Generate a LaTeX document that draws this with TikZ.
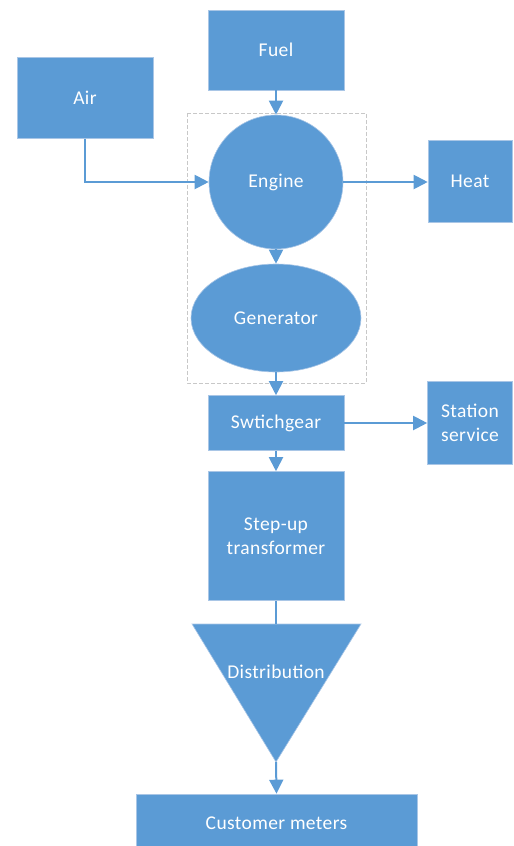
\documentclass[tikz,border=0pt]{standalone}
\usepackage{fontspec}
\setmainfont{Carlito}[LetterSpace=2]
\usetikzlibrary{arrows.meta,shapes.geometric}
\definecolor{boxblue}{HTML}{5B9BD5}
\definecolor{edgeblue}{HTML}{A9C6E6}
\definecolor{dashgray}{HTML}{C8C8C8}
\tikzset{
  blk/.style={fill=boxblue, draw=edgeblue, line width=0.6pt, text=white, font=\fontsize{19.5}{24.5}\selectfont, inner sep=0pt, align=center},
  conn/.style={draw=boxblue, line width=2pt, -{Triangle[width=14pt,length=14pt]}},
  plainconn/.style={draw=boxblue, line width=2pt},
}
\begin{document}
\begin{tikzpicture}[x=1pt,y=-1pt]
\useasboundingbox (0,0) rectangle (514,846);
\clip (0,0) rectangle (514,846);
% dashed group box
\draw[dashgray, line width=0.8pt, dash pattern=on 4pt off 2pt] (187,113) rectangle (366,383);
% nodes
\node[blk, minimum width=136pt, minimum height=80pt] (fuel) at (276,50) {Fuel};
\node[blk, minimum width=136pt, minimum height=81pt] (air) at (85,98) {Air};
\node[blk, circle, minimum size=134pt] (engine) at (276,182) {Engine};
\node[blk, ellipse, minimum width=170pt, minimum height=108pt] (gen) at (276,318) {Generator};
\node[blk, minimum width=84pt, minimum height=82pt] (heat) at (470,181) {Heat};
\node[blk, minimum width=136pt, minimum height=55pt] (sw) at (276,423) {Swtichgear};
\node[blk, minimum width=85pt, minimum height=83pt] (stat) at (470,423) {Station\\service};
\node[blk, minimum width=136pt, minimum height=129pt] (tr) at (276,536) {Step-up\\transformer};
% distribution triangle
\coordinate (tl) at (192,624);
\coordinate (tt) at (276,624);
\coordinate (trr) at (361,624);
\coordinate (tapex) at (276,762);
\fill[boxblue, draw=edgeblue, line width=0.6pt] (tl) -- (trr) -- (tapex) -- cycle;
\node[text=white, font=\fontsize{19.5}{24.5}\selectfont, inner sep=0pt] (dist) at (276,672) {Distribution};
\node[blk, minimum width=281pt, minimum height=58pt] (cust) at (276.5,823) {Customer meters};
% connectors
\draw[conn] (fuel.south) -- (engine.north);
\draw[conn] (air.south) |- (engine.west);
\draw[conn] (engine.east) -- (heat.west |- engine.east);
\draw[conn] (engine.south) -- (gen.north);
\draw[conn] (gen.south) -- (sw.north);
\draw[conn] (sw.east) -- (stat.west);
\draw[conn] (sw.south) -- (tr.north);
\draw[plainconn] (tr.south) -- (tt);
\draw[conn] (tapex) -- (cust.north);
\end{tikzpicture}
\end{document}
